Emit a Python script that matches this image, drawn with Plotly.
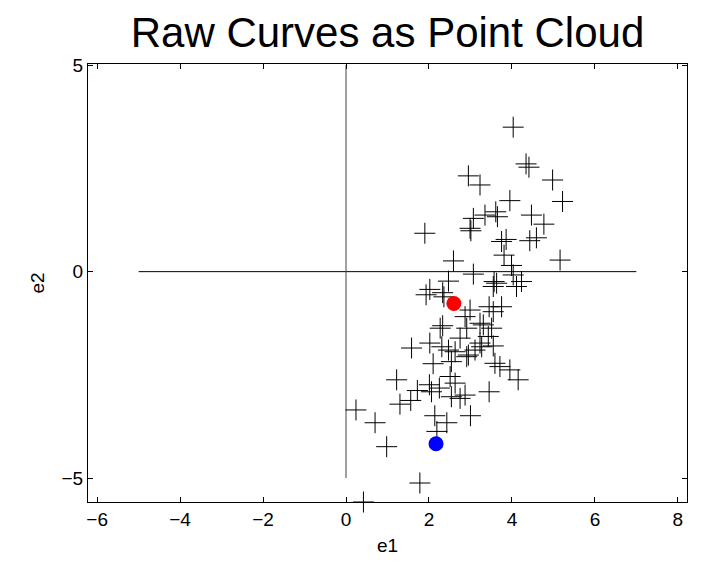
import plotly.graph_objects as go

e1 = [4.03, 4.34, 4.41, 2.95, 3.23, 4.98, 3.95, 5.22, 3.07, 3.35, 3.61, 3.65, 4.47, 4.77,
      2.99, 3.01, 3.75, 3.86, 4.43, 4.59, 1.90, 2.59, 3.81, 3.99, 5.16, 3.07, 4.03, 2.47,
      3.57, 3.63, 4.11, 4.23, 3.55, 2.02, 1.93, 2.33, 2.36, 2.99, 2.87, 3.45, 3.75, 3.55,
      3.23, 3.31, 2.91, 3.51, 3.43, 2.75, 3.23, 3.27, 3.55, 3.11, 2.95, 3.59, 3.71, 3.95,
      4.15, 2.33, 2.27, 2.02, 1.58, 2.31, 2.47, 2.63, 2.91, 2.54, 2.10, 2.51, 1.22, 2.01,
      1.72, 2.25, 2.06, 2.63, 2.54, 2.75, 2.87, 1.56, 1.30, 0.24, 0.70, 2.14, 2.43, 2.19,
      0.98, 1.78, 0.42, 3.45, 3.00]
e2 = [3.50, 2.61, 2.53, 2.32, 2.10, 2.22, 1.72, 1.70, 1.29, 1.37, 1.45, 1.33, 1.37, 1.15,
      1.05, 0.99, 0.73, 0.78, 0.75, 0.82, 0.93, 0.26, 0.40, 0.15, 0.28, -0.06, -0.08, -0.23,
      -0.24, -0.28, -0.36, -0.24, -0.36, -0.43, -0.56, -0.51, -0.61, -0.93, -1.09, -0.85, -0.85, -0.97,
      -1.25, -1.29, -1.37, -1.37, -1.57, -1.61, -1.73, -1.82, -1.80, -1.90, -2.02, -2.22, -2.30, -2.38,
      -2.62, -1.31, -1.37, -1.73, -1.85, -1.82, -1.90, -1.94, -2.06, -2.18, -2.23, -2.54, -2.62, -2.74,
      -2.88, -2.82, -2.91, -2.70, -3.03, -3.07, -2.99, -3.12, -3.21, -3.35, -3.66, -3.49, -3.66, -3.87,
      -4.24, -5.12, -5.58, -2.91, -3.49]

red_point = (2.60, -0.77)
blue_point = (2.17, -4.17)

hline_x = [-5, 7]
hline_y = [0, 0]
vline_x = [0, 0]
vline_y = [-5, 5]

x_ticks = [-6, -4, -2, 0, 2, 4, 6, 8]
y_ticks = [-5, 0, 5]

def minus(v):
    return str(v).replace("-", "\u2212")

fig = go.Figure()
fig.add_trace(go.Scatter(x=hline_x, y=hline_y, mode="lines",
                         line=dict(color="black", width=1), hoverinfo="skip"))
fig.add_trace(go.Scatter(x=vline_x, y=vline_y, mode="lines",
                         line=dict(color="#444444", width=1), hoverinfo="skip"))
fig.add_trace(go.Scatter(x=e1, y=e2, mode="markers",
                         marker=dict(symbol="cross-thin-open", size=15, color="black",
                                     line=dict(color="black", width=1)),
                         cliponaxis=False))
fig.add_trace(go.Scatter(x=[red_point[0]], y=[red_point[1]], mode="markers",
                         marker=dict(symbol="circle", size=15, color="red",
                                     line=dict(width=0))))
fig.add_trace(go.Scatter(x=[blue_point[0]], y=[blue_point[1]], mode="markers",
                         marker=dict(symbol="circle", size=15, color="blue",
                                     line=dict(width=0))))

axis_common = dict(showgrid=False, zeroline=False, showline=True, linecolor="black",
                   linewidth=1, mirror="ticks", ticks="inside", ticklen=5,
                   tickcolor="black", tickfont=dict(size=19, color="black"))

fig.update_layout(
    width=702, height=565,
    margin=dict(l=88, r=15, t=64, b=63),
    paper_bgcolor="white", plot_bgcolor="white",
    showlegend=False,
    font=dict(family="Liberation Sans, Arial, sans-serif", color="black"),
    title=dict(text="Raw Curves as Point Cloud", x=0.552, xanchor="center",
               yref="container", y=0.943, yanchor="middle",
               font=dict(size=42, color="black")),
    xaxis=dict(range=[-6.22, 8.22], tickvals=x_ticks,
               ticktext=[minus(v) for v in x_ticks],
               title=dict(text="e1", font=dict(size=19), standoff=9), **axis_common),
    yaxis=dict(range=[-5.58, 5.03], tickvals=y_ticks,
               ticktext=[minus(v) for v in y_ticks],
               title=dict(text="e2", font=dict(size=19), standoff=11), **axis_common),
)

fig.write_html("out.html")
